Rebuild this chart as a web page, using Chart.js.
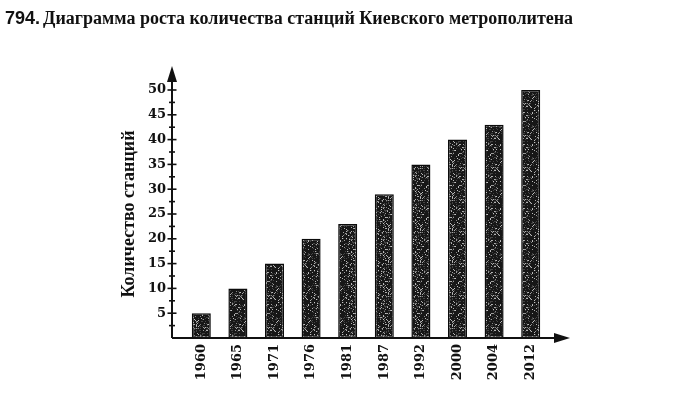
<!DOCTYPE html>
<html>
<head>
<meta charset="utf-8">
<script src="https://cdn.jsdelivr.net/npm/chart.js@4"></script>
<style>
  html, body { margin: 0; padding: 0; background: #fff; }
  #wrap { position: relative; width: 673px; height: 395px; overflow: hidden; }
  #c { position: absolute; left: 0; top: 0; }
  #title { position: absolute; left: 5px; top: 8px; white-space: nowrap; color: #111; }
  #title .num { font-family: "Liberation Sans", Arial, sans-serif; font-weight: bold; font-size: 18px; margin-right: 3px; }
  #title .txt { font-family: "Liberation Serif", serif; font-weight: bold; font-size: 18px; }
</style>
</head>
<body>
<div id="wrap">
  <canvas id="c" width="673" height="395"></canvas>
  <div id="title"><span class="num" id="tnum"></span><span class="txt" id="ttxt"></span></div>
</div>
<script>
const titleNumber = '794.';
const titleText = 'Диаграмма роста количества станций Киевского метрополитена';
const yAxisTitle = 'Количество станций';
const years = ['1960', '1965', '1971', '1976', '1981', '1987', '1992', '2000', '2004', '2012'];
const stations = [5, 10, 15, 20, 23, 29, 35, 40, 43, 50];
const yLabelValues = [5, 10, 15, 20, 25, 30, 35, 40, 45, 50];
const yMax = 50;
const yStep = 2.5;

document.getElementById('tnum').textContent = titleNumber;
document.getElementById('ttxt').textContent = titleText;

// deterministic speckle texture for the bars
function makePattern() {
  const pc = document.createElement('canvas');
  pc.width = 32; pc.height = 32;
  const g = pc.getContext('2d');
  g.fillStyle = '#171717';
  g.fillRect(0, 0, 32, 32);
  for (let y = 0; y < 32; y++) {
    for (let x = 0; x < 32; x++) {
      let h = (x * 374761393 + y * 668265263) | 0;
      h = (h ^ (h >>> 13)) * 1274126177 | 0;
      h = (h ^ (h >>> 16)) & 255;
      if (h < 28) {
        const v = 120 + (h * 3);
        g.fillStyle = 'rgb(' + v + ',' + v + ',' + v + ')';
        g.fillRect(x, y, 1, 1);
      } else if (h < 60) {
        g.fillStyle = '#444';
        g.fillRect(x, y, 1, 1);
      }
    }
  }
  return g.createPattern(pc, 'repeat');
}

const ctx = document.getElementById('c').getContext('2d');
const barFill = makePattern();

const axesPlugin = {
  id: 'arrowAxes',
  afterDatasetsDraw(chart) {
    const { ctx, chartArea, scales } = chart;
    const ys = scales.y;
    const x0 = chartArea.left - 11;
    const y0 = ys.getPixelForValue(0);
    const yTop = chartArea.top - 22;
    const xRight = chartArea.right + 19;
    ctx.save();
    ctx.strokeStyle = '#111';
    ctx.fillStyle = '#111';
    ctx.lineWidth = 2;
    ctx.beginPath();
    ctx.moveTo(x0, y0);
    ctx.lineTo(x0, yTop + 8);
    ctx.moveTo(x0, y0);
    ctx.lineTo(xRight - 8, y0);
    ctx.stroke();
    // arrow heads
    ctx.beginPath();
    ctx.moveTo(x0, yTop - 2);
    ctx.lineTo(x0 - 5, yTop + 14);
    ctx.lineTo(x0 + 5, yTop + 14);
    ctx.closePath();
    ctx.fill();
    ctx.beginPath();
    ctx.moveTo(xRight + 2, y0);
    ctx.lineTo(xRight - 14, y0 - 5);
    ctx.lineTo(xRight - 14, y0 + 5);
    ctx.closePath();
    ctx.fill();
    // tick marks
    ctx.lineWidth = 1.6;
    ys.ticks.forEach(t => {
      if (t.value <= 0) return;
      const py = ys.getPixelForValue(t.value);
      const major = yLabelValues.includes(t.value);
      const half = major ? 4.5 : 3;
      ctx.beginPath();
      ctx.moveTo(x0 - half, py);
      ctx.lineTo(x0 + half, py);
      ctx.stroke();
    });
    ctx.restore();
  }
};

new Chart(ctx, {
  type: 'bar',
  data: {
    labels: years,
    datasets: [{
      data: stations,
      backgroundColor: barFill,
      borderColor: '#0b0b0b',
      borderWidth: 1.5,
      borderSkipped: false,
      barPercentage: 0.52,
      categoryPercentage: 1.0
    }]
  },
  options: {
    responsive: false,
    animation: false,
    events: [],
    layout: { padding: { left: 112, top: 90, right: 124, bottom: 0 } },
    plugins: {
      legend: { display: false },
      tooltip: { enabled: false },
      title: { display: false }
    },
    scales: {
      x: {
        grid: { display: false, drawTicks: false },
        border: { display: false },
        afterFit(s) { s.height = 57; },
        ticks: {
          color: '#111',
          padding: 6,
          maxRotation: 90,
          minRotation: 90,
          autoSkip: false,
          font: { family: 'DejaVu Serif', weight: 'bold', size: 13 }
        }
      },
      y: {
        min: 0,
        max: yMax,
        grid: { display: false, drawTicks: false },
        border: { display: false },
        afterFit(s) { s.width = 71; },
        title: {
          display: true,
          text: yAxisTitle,
          color: '#111',
          padding: { top: 7, bottom: 0 },
          font: { family: 'Liberation Serif', weight: 'bold', size: 18 }
        },
        ticks: {
          stepSize: yStep,
          color: '#111',
          padding: 17,
          autoSkip: false,
          font: { family: 'DejaVu Serif', weight: 'bold', size: 13 },
          callback: (v) => yLabelValues.includes(v) ? String(v) : ''
        }
      }
    }
  },
  plugins: [axesPlugin]
});
</script>
</body>
</html>
